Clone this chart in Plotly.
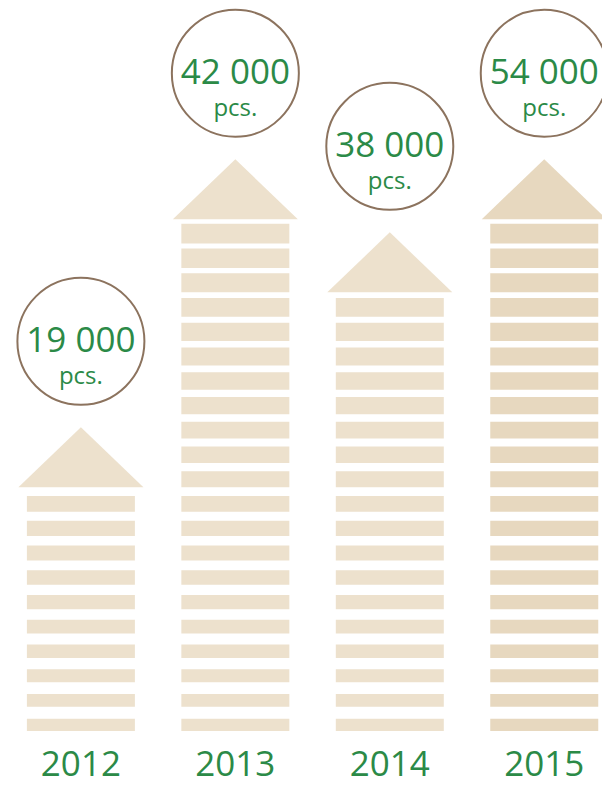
import plotly.graph_objects as go

# ---- data ----
years = ["2012", "2013", "2014", "2015"]
values = [19000, 42000, 38000, 54000]          # pcs.
stripe_counts = [10, 21, 18, 21]               # number of horizontal stripes per column
unit_label = "pcs."

# ---- style ----
stripe_colors = ["#ede1cd", "#ede1cd", "#ede1cd", "#e7d8bf"]
green = "#2b8a47"
brown = "#8c735e"
font = "Open Sans"

W, H = 602, 786
PITCH = 24.75          # px per stripe row (one y unit)
BOTTOM_PX = 731.0      # pixel row of the lowest stripe's bottom edge
X0_PX, XSTEP = 80.9, 154.45

def stripe_h(k):       # stripe thickness grows slightly towards the top (in y units)
    return (12.3 + 0.38 * k) / PITCH

def row_top(k):
    return 0.497 + k

fig = go.Figure()

half_bar = 54 / XSTEP
half_tri = 62.5 / XSTEP
tri_h = 60 / PITCH
circ_off = 86 / PITCH

circle_x, circle_y = [], []
for i, (n, col) in enumerate(zip(stripe_counts, stripe_colors)):
    tops = [row_top(k) for k in range(n)]
    hs = [stripe_h(k) for k in range(n)]
    fig.add_trace(go.Bar(
        x=[i] * n, y=hs, base=[t - h for t, h in zip(tops, hs)],
        width=2 * half_bar, marker=dict(color=col, line=dict(width=0)),
        hoverinfo="skip", showlegend=False))
    base = row_top(n) - stripe_h(n)
    apex = base + tri_h
    fig.add_trace(go.Scatter(
        x=[i - half_tri, i, i + half_tri, i - half_tri],
        y=[base, apex, base, base], mode="lines", fill="toself",
        fillcolor=col, line=dict(width=0, color=col),
        hoverinfo="skip", showlegend=False))
    circle_x.append(i)
    circle_y.append(apex + circ_off)

fig.add_trace(go.Scatter(
    x=circle_x, y=circle_y, mode="markers",
    marker=dict(size=127, color="rgba(255,255,255,0)", line=dict(color=brown, width=2)),
    hoverinfo="skip", showlegend=False))

labels = [f"{v:,}".replace(",", " ") for v in values]
fig.add_trace(go.Scatter(
    x=circle_x, y=[c - 2 / PITCH for c in circle_y], mode="text", text=labels,
    textposition="middle center",
    textfont=dict(family=font, size=35, color=green),
    hoverinfo="skip", showlegend=False))
fig.add_trace(go.Scatter(
    x=circle_x, y=[c - 37 / PITCH for c in circle_y], mode="text",
    text=[unit_label] * len(values), textposition="middle center",
    textfont=dict(family=font, size=24, color=green),
    hoverinfo="skip", showlegend=False))

fig.add_trace(go.Scatter(
    x=list(range(len(years))), y=[(BOTTOM_PX - 767.5) / PITCH] * len(years),
    mode="text", text=years, textposition="middle center",
    textfont=dict(family=font, size=35, color=green),
    hoverinfo="skip", showlegend=False))

fig.update_layout(
    width=W, height=H, margin=dict(l=0, r=0, t=0, b=0),
    paper_bgcolor="white", plot_bgcolor="white", barmode="overlay",
    xaxis=dict(range=[-X0_PX / XSTEP, (W - X0_PX) / XSTEP], visible=False, fixedrange=True),
    yaxis=dict(range=[(BOTTOM_PX - H) / PITCH, BOTTOM_PX / PITCH], visible=False, fixedrange=True),
)

fig.write_html("out.html", config={"displayModeBar": False},
               post_script="document.body.style.margin='0';document.body.style.overflow='hidden';")
